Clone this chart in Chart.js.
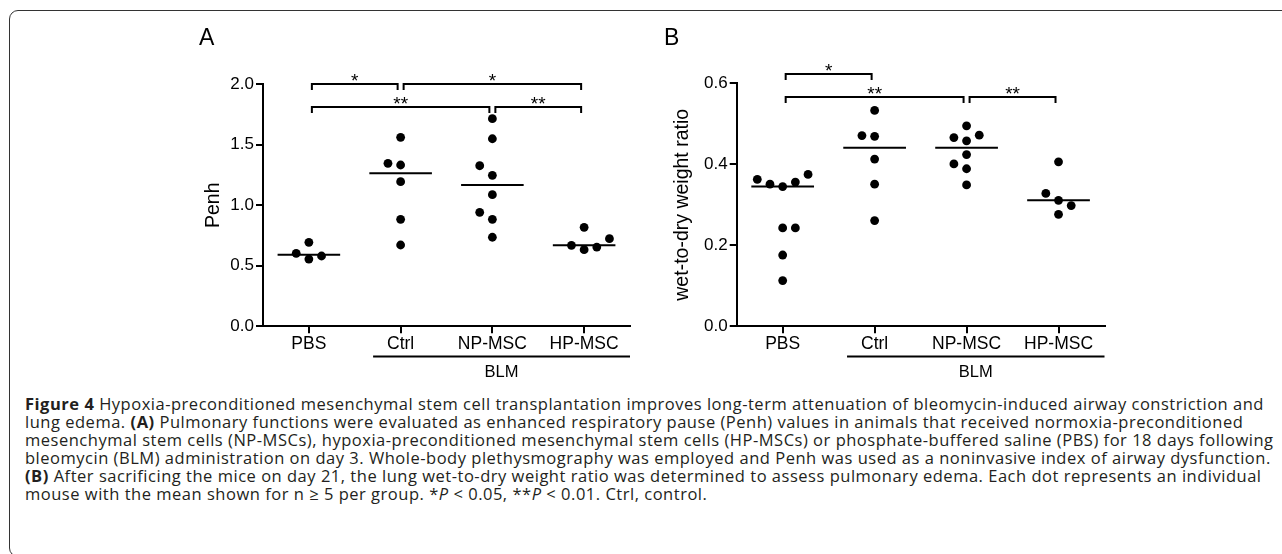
<!DOCTYPE html>
<html><head><meta charset="utf-8">
<script src="https://cdn.jsdelivr.net/npm/chart.js@4.4.1/dist/chart.umd.min.js"></script>
<style>
html,body{margin:0;padding:0;background:#fff;width:1282px;height:554px;overflow:hidden;position:relative;}
#frame{position:absolute;left:9px;top:10px;width:1320px;height:547px;border:1.5px solid #333;border-radius:9px;box-sizing:border-box;}
canvas{position:absolute;top:0;}
#cA{left:0px} #cB{left:641px}
.panel{position:absolute;font-family:"Liberation Sans",Arial,sans-serif;font-size:23px;line-height:23px;color:#000;}
#caption{position:absolute;left:25px;top:395px;font-family:"Open Sans",sans-serif;font-size:16.5px;line-height:18px;color:#231f20;white-space:nowrap;}
#caption div{display:block;}
#caption span.ln{display:inline-block;}
#caption b{font-weight:700;}
</style></head>
<body>
<div id="frame"></div>
<canvas id="cA" width="641" height="392"></canvas>
<canvas id="cB" width="641" height="392"></canvas>
<div class="panel" style="left:199px;top:26px;">A</div>
<div class="panel" style="left:664px;top:26px;">B</div>
<div id="caption">
<div><span class="ln"><b>Figure 4</b> Hypoxia-preconditioned mesenchymal stem cell transplantation improves long-term attenuation of bleomycin-induced airway constriction and</span></div>
<div><span class="ln">lung edema. <b>(A)</b> Pulmonary functions were evaluated as enhanced respiratory pause (Penh) values in animals that received normoxia-preconditioned</span></div>
<div><span class="ln">mesenchymal stem cells (NP-MSCs), hypoxia-preconditioned mesenchymal stem cells (HP-MSCs) or phosphate-buffered saline (PBS) for 18 days following</span></div>
<div><span class="ln" id="refLine">bleomycin (BLM) administration on day 3. Whole-body plethysmography was employed and Penh was used as a noninvasive index of airway dysfunction.</span></div>
<div><span class="ln"><b>(B)</b> After sacrificing the mice on day 21, the lung wet-to-dry weight ratio was determined to assess pulmonary edema. Each dot represents an individual</span></div>
<div><span class="ln">mouse with the mean shown for n ≥ 5 per group. *<i>P</i> &lt; 0.05, **<i>P</i> &lt; 0.01. Ctrl, control.</span></div>
</div>
<script>
// ---------- data ----------
const categories = ['PBS', 'Ctrl', 'NP-MSC', 'HP-MSC'];
const groupLabel = 'BLM';
const groupMembers = ['Ctrl', 'NP-MSC', 'HP-MSC'];

// Panel A: Penh
const penhPBS  = [0.556, 0.603, 0.581, 0.694];
const penhCtrl = [1.562, 1.333, 1.347, 1.195, 0.884, 0.672];
const penhNP   = [1.716, 1.550, 1.248, 1.327, 1.088, 0.884, 0.942, 0.736];
const penhHP   = [0.818, 0.633, 0.669, 0.655, 0.724];
const penhTicks = [0, 0.5, 1.0, 1.5, 2.0];
const penhSig = [['PBS','Ctrl','*',0], ['Ctrl','HP-MSC','*',0], ['PBS','NP-MSC','**',1], ['NP-MSC','HP-MSC','**',1]];
const penhSigLevels = [2.0, 1.815];

// Panel B: wet-to-dry weight ratio
const wdPBS  = [0.345, 0.351, 0.356, 0.375, 0.363, 0.243, 0.243, 0.176, 0.113];
const wdCtrl = [0.533, 0.469, 0.471, 0.413, 0.351, 0.261];
const wdNP   = [0.495, 0.458, 0.466, 0.472, 0.424, 0.389, 0.401, 0.349];
const wdHP   = [0.406, 0.311, 0.298, 0.328, 0.2765];
const wdTicks = [0, 0.2, 0.4, 0.6];
const wdSig = [['PBS','Ctrl','*',0], ['PBS','NP-MSC','**',1], ['NP-MSC','HP-MSC','**',1]];
const wdSigLevels = [0.623, 0.565];

// ---------- caption fit ----------
(function(){
  const ref = document.getElementById('refLine');
  const target = 1245.7;
  const w = ref.getBoundingClientRect().width;
  const chars = ref.textContent.length;
  const ls = (target - w) / chars;
  document.getElementById('caption').style.letterSpacing = ls.toFixed(3) + 'px';
})();

// ---------- helpers ----------
const FONT = '"Liberation Sans", Arial, Helvetica, sans-serif';
const SLOT = 0.138, HALF_MED = 0.341;

function median(a){ const s=[...a].sort((p,q)=>p-q); const n=s.length; return n%2? s[(n-1)/2] : (s[n/2-1]+s[n/2])/2; }

// Prism-like column scatter: spread points that would overlap sideways
function swarm(values, thr){
  const placed = [];
  return values.map(v => {
    const block = s => placed.filter(p => p.slot === s && Math.abs(p.v - v) < thr);
    let slot = 0;
    const b0 = block(0);
    if (b0.length){
      const near = b0.reduce((a,b)=> Math.abs(b.v-v) < Math.abs(a.v-v) ? b : a);
      const first = v > near.v ? -1 : 1;
      const order = [first, -first, 2, -2, 3, -3, 4, -4];
      slot = order.find(s => block(s).length === 0);
    }
    placed.push({v, slot});
    return slot;
  });
}

function buildChart(canvasId, cfg){
  const yMax = cfg.ticks[cfg.ticks.length-1];
  const thr = 0.0536 * yMax;
  const datasets = [];
  cfg.groups.forEach((vals, gi) => {
    const slots = swarm(vals, thr);
    datasets.push({
      data: vals.map((v,i)=>({x: gi + slots[i]*SLOT, y: v})),
      pointRadius: 4.4, pointHoverRadius: 4.4, pointBackgroundColor:'#000', pointBorderWidth:0,
      showLine:false, clip:false
    });
    const m = median(vals);
    datasets.push({
      data: [{x: gi-HALF_MED, y: m}, {x: gi+HALF_MED, y: m}],
      showLine:true, borderColor:'#000', borderWidth:2, pointRadius:0, clip:false
    });
  });

  const overlay = {
    id: 'overlay',
    afterDraw(chart){
      const {ctx, chartArea} = chart;
      const xs = chart.scales.x, ys = chart.scales.y;
      ctx.save();
      ctx.strokeStyle = '#000'; ctx.fillStyle = '#000'; ctx.lineWidth = 2;
      // significance brackets
      cfg.sig.forEach(([a,b,label,tier]) => {
        const x1 = xs.getPixelForValue(categories.indexOf(a)) + 3;
        const x2 = xs.getPixelForValue(categories.indexOf(b)) - 3;
        const yy = Math.round(ys.getPixelForValue(cfg.sigLevels[tier])) ;
        ctx.beginPath();
        ctx.moveTo(x1, yy+6); ctx.lineTo(x1, yy); ctx.lineTo(x2, yy); ctx.lineTo(x2, yy+6);
        ctx.stroke();
        ctx.font = '19px ' + FONT; ctx.textAlign = 'center'; ctx.textBaseline = 'alphabetic';
        ctx.fillText(label, (x1+x2)/2, yy + 3);
      });
      // group bar (BLM)
      const gx1 = xs.getPixelForValue(categories.indexOf(groupMembers[0]) - 0.3);
      const gx2 = chartArea.right;
      const gy = Math.round(chartArea.bottom + 30) + 0.5;
      ctx.beginPath(); ctx.moveTo(gx1, gy); ctx.lineTo(gx2, gy); ctx.stroke();
      ctx.font = '16.5px ' + FONT; ctx.textAlign = 'center'; ctx.textBaseline = 'middle';
      ctx.fillText(groupLabel, (gx1+gx2)/2, chartArea.bottom + 46.5);
      ctx.restore();
    }
  };

  return new Chart(document.getElementById(canvasId), {
    type: 'scatter',
    data: { datasets },
    plugins: [overlay],
    options: {
      responsive:false, animation:false, devicePixelRatio:1, events:[],
      layout:{ padding: cfg.padding },
      plugins:{ legend:{display:false}, tooltip:{enabled:false} },
      scales:{
        x:{
          type:'linear', min:-0.5, max:categories.length-0.5,
          afterBuildTicks: s => { s.ticks = categories.map((c,i)=>({value:i})); },
          afterFit: s => { s.height = cfg.xHeight; },
          ticks:{ callback: v => categories[v], color:'#000', font:{family:FONT, size:17.5}, padding:0, maxRotation:0, autoSkip:false },
          grid:{ drawOnChartArea:false, drawTicks:true, tickLength:7, color:'#000', lineWidth:2 },
          border:{ display:true, color:'#000', width:2 }
        },
        y:{
          type:'linear', min:0, max:yMax,
          afterBuildTicks: s => { s.ticks = cfg.ticks.map(v=>({value:v})); },
          afterFit: s => { s.width = cfg.yWidth; },
          ticks:{ callback: v => v.toFixed(1), color:'#000', font:{family:FONT, size:17}, padding:2 },
          grid:{ drawOnChartArea:false, drawTicks:true, tickLength:7, color:'#000', lineWidth:2 },
          border:{ display:true, color:'#000', width:2 },
          title:{ display:true, text:cfg.title, color:'#000', font:{family:FONT, size:19.5}, padding:0 }
        }
      }
    }
  });
}

buildChart('cA', {
  groups:[penhPBS, penhCtrl, penhNP, penhHP], ticks:penhTicks, title:'Penh',
  sig:penhSig, sigLevels:penhSigLevels,
  padding:{left:201.6, right:11, top:84.3, bottom:0}, yWidth:61.4, xHeight:65.7
});
buildChart('cB', {
  groups:[wdPBS, wdCtrl, wdNP, wdHP], ticks:wdTicks, title:'wet-to-dry weight ratio',
  sig:wdSig, sigLevels:wdSigLevels,
  padding:{left:30.3, right:177.5, top:83.3, bottom:0}, yWidth:65.4, xHeight:65.7
});
</script>
</body></html>
